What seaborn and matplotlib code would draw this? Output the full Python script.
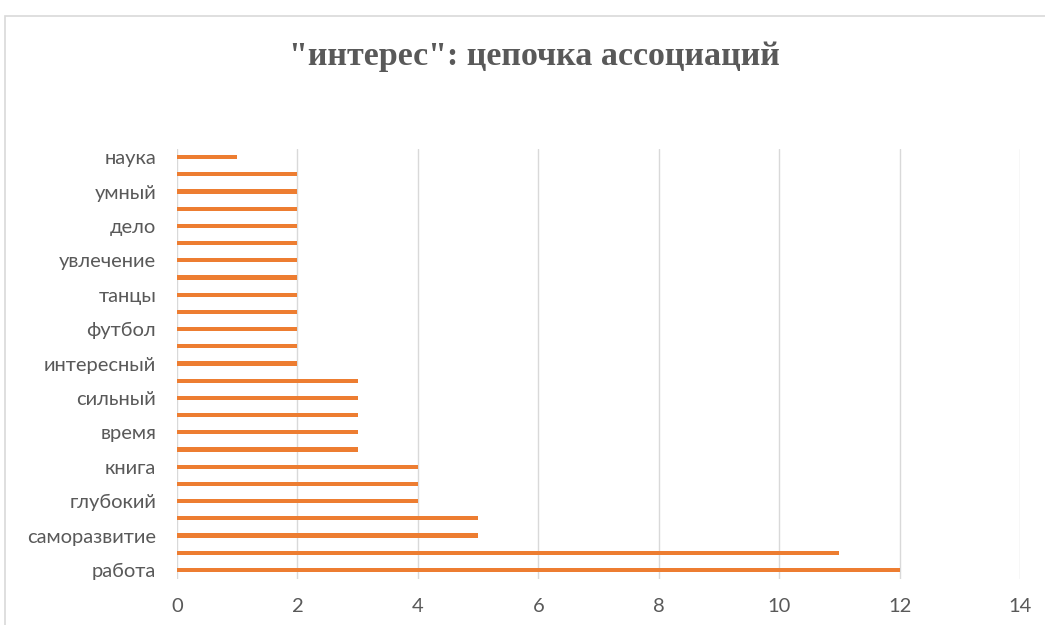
import pandas as pd
import seaborn as sns
import matplotlib.pyplot as plt
from matplotlib.patches import Rectangle

# Data, top to bottom as in the chart (every other label is hidden in the original)
labels = ['наука', '', 'умный', '', 'дело', '', 'увлечение', '', 'танцы', '',
          'футбол', '', 'интересный', '', 'сильный', '', 'время', '', 'книга', '',
          'глубокий', '', 'саморазвитие', '', 'работа']
counts = [1, 2, 2, 2, 2, 2, 2, 2, 2, 2, 2, 2, 2, 3, 3, 3, 3, 3, 4, 4, 4, 5, 5, 11, 12]
x_ticks = [0, 2, 4, 6, 8, 10, 12, 14]

df = pd.DataFrame({
    'key': [lab if lab else f'_{i}' for i, lab in enumerate(labels)],
    'count': counts,
})

sns.set_style('white')
plt.rcParams['font.family'] = ['Lato', 'DejaVu Sans']

fig = plt.figure(figsize=(10.45, 6.25), dpi=100)
ax = fig.add_axes([177 / 1045, 1 - 578.5 / 625, 843 / 1045, 430 / 625])

# chart area border (left and top edges visible)
fig.patches.append(Rectangle((5 / 1045, -0.2), 1.5, 1.2 - 16 / 625, transform=fig.transFigure,
                             fill=False, edgecolor='#D9D9D9', linewidth=1.2))

sns.barplot(data=df, x='count', y='key', orient='h', color='#ED7D31',
            saturation=1, width=0.25, linewidth=0, ax=ax, zorder=3)

ax.set_xlim(0, 14)
ax.set_ylim(len(labels) - 0.5, -0.5)
ax.set_xticks(x_ticks)
ax.set_xticklabels([str(t) for t in x_ticks])
ax.set_yticks(range(len(labels)))
ax.set_yticklabels(labels)
ax.set_xlabel('')
ax.set_ylabel('')
ax.grid(axis='x', color='#D9D9D9', linewidth=1)
ax.grid(axis='y', visible=False)
ax.set_axisbelow(True)
for s in ax.spines.values():
    s.set_visible(False)
ax.tick_params(axis='both', length=0, labelsize=14.5, colors='#595959')
ax.tick_params(axis='x', pad=14)
ax.tick_params(axis='y', pad=15)

fig.text(534 / 1045, 1 - 57 / 625, '"интерес": цепочка ассоциаций', ha='center', va='center',
         fontsize=24.5, fontweight='bold', color='#595959', family='Liberation Serif')

plt.savefig('out.png', dpi=100)
